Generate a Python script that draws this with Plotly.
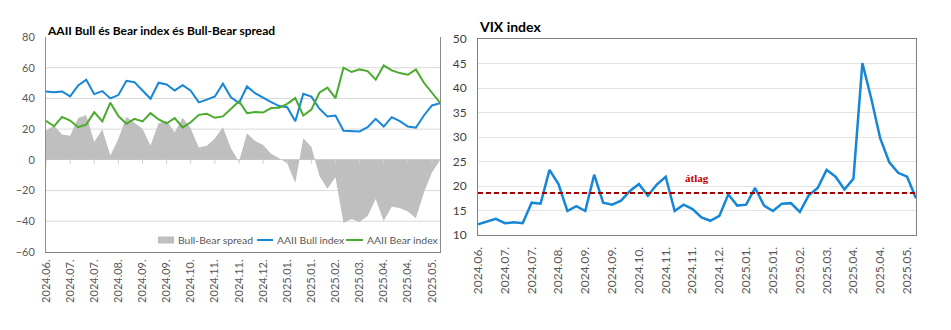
import plotly.graph_objects as go
import pandas as pd
import numpy as np

# ---------------- data ----------------
DATES = [d.strftime("%Y-%m-%d") for d in pd.date_range("2024-06-13", periods=50, freq="7D")]

TICK_LABELS = ["2024.06.", "2024.07.", "2024.07.", "2024.08.", "2024.09.", "2024.09.",
               "2024.10.", "2024.11.", "2024.11.", "2024.12.", "2025.01.", "2025.01.",
               "2025.02.", "2025.03.", "2025.04.", "2025.04.", "2025.05."]
TICK_DATES = DATES[::3]

BULL = [44.5, 44.1, 44.5, 41.3, 48.5, 52.2, 42.8, 44.8, 40.0, 42.2,
        51.5, 50.6, 45.2, 39.8, 50.2, 49.1, 45.2, 48.6, 45.0, 37.4,
        39.2, 41.3, 49.6, 40.8, 37.0, 47.8, 43.4, 40.4, 37.6, 35.0,
        34.3, 25.2, 43.0, 41.2, 33.3, 28.2, 28.9, 18.9, 18.7, 18.5,
        21.3, 26.7, 21.7, 27.8, 25.2, 21.7, 20.9, 28.9, 35.4, 36.9]

BEAR = [25.4, 21.9, 28.0, 25.6, 21.3, 23.0, 31.1, 25.0, 37.2, 28.5,
        23.5, 26.7, 25.0, 30.4, 26.3, 23.7, 27.2, 21.1, 24.5, 29.3,
        30.0, 27.4, 28.3, 33.2, 38.2, 30.4, 31.1, 30.8, 33.7, 33.9,
        36.5, 40.2, 28.9, 32.7, 43.7, 47.0, 40.2, 60.0, 57.2, 58.9,
        57.8, 52.2, 61.5, 58.3, 56.5, 55.4, 58.9, 50.2, 43.7, 37.2]

SPREAD = [19.1, 22.2, 16.5, 15.7, 27.2, 29.2, 11.7, 19.8, 2.8, 13.7,
          28.0, 23.9, 20.2, 9.4, 23.9, 25.4, 18.0, 27.5, 20.5, 8.1,
          9.2, 13.9, 21.3, 7.6, -1.2, 17.4, 12.3, 9.6, 3.9, 1.1,
          -2.2, -15.0, 14.1, 8.5, -10.4, -18.8, -11.3, -41.1, -38.5, -40.4,
          -36.5, -25.5, -39.8, -30.5, -31.3, -33.7, -38.0, -21.3, -8.3, -0.3]

VIX = [12.2, 12.7, 13.3, 12.4, 12.6, 12.4, 16.6, 16.4, 23.3, 20.4,
       14.9, 15.9, 14.9, 22.3, 16.6, 16.2, 17.0, 19.0, 20.4, 18.0,
       20.3, 21.9, 14.9, 16.2, 15.3, 13.6, 12.9, 13.9, 18.3, 16.0,
       16.2, 19.6, 16.0, 14.9, 16.4, 16.5, 14.7, 18.1, 19.6, 23.3,
       21.9, 19.3, 21.5, 45.1, 37.8, 29.7, 24.9, 22.7, 21.9, 17.5]
VIX_AVG = float(np.mean(VIX))

LEFT_RANGE = [-60, 80]
LEFT_GRID = [60, 40, 20, -20, -40]

LEGEND_NAMES = ["Bull-Bear spread", "AAII Bull index", "AAII Bear index"]

# ---------------- styling ----------------
W, H = 951, 330
FONT = "Lato"
BLUE = "#1686d6"
GREEN = "#4aab2c"
GRAY_AREA = "#bfbfbf"
TXT = "#595959"
GRID = "#d9d9d9"

def px_x(p):
    return p / W

def px_y(p):
    return 1 - p / H

L_DOM_X = [px_x(46), px_x(440)]
L_DOM_Y = [px_y(252), px_y(37)]
R_DOM_X = [px_x(478), px_x(916)]
R_DOM_Y = [px_y(235), px_y(39)]

L_UNITS_PER_PX = (LEFT_RANGE[1] - LEFT_RANGE[0]) / (252 - 37)

fig = go.Figure()

# horizontal gridlines of the left panel, drawn first so they sit beneath the data
grid_x, grid_y = [], []
for g in LEFT_GRID:
    grid_x += [DATES[0], DATES[-1], None]
    grid_y += [g, g, None]
fig.add_trace(go.Scatter(x=grid_x, y=grid_y, mode="lines", line=dict(color=GRID, width=1),
                         hoverinfo="skip", showlegend=False, connectgaps=False,
                         xaxis="x", yaxis="y"))

fig.add_trace(go.Scatter(x=DATES, y=SPREAD, name=LEGEND_NAMES[0], fill="tozeroy",
                         fillcolor=GRAY_AREA, mode="lines", line=dict(width=0, color=GRAY_AREA),
                         xaxis="x", yaxis="y", showlegend=False))
# small tick marks hanging below the zero line
fig.add_trace(go.Scatter(x=TICK_DATES, y=[0] * len(TICK_DATES), mode="markers",
                         marker=dict(size=1, opacity=0), showlegend=False, hoverinfo="skip",
                         error_y=dict(type="constant", value=0, valueminus=4 * L_UNITS_PER_PX,
                                      symmetric=False, width=0, color="#d0d0d0", thickness=1),
                         xaxis="x", yaxis="y"))
fig.add_trace(go.Scatter(x=DATES, y=BULL, name=LEGEND_NAMES[1], mode="lines",
                         line=dict(color=BLUE, width=2), xaxis="x", yaxis="y", showlegend=False))
fig.add_trace(go.Scatter(x=DATES, y=BEAR, name=LEGEND_NAMES[2], mode="lines",
                         line=dict(color=GREEN, width=2), xaxis="x", yaxis="y", showlegend=False))
fig.add_trace(go.Scatter(x=DATES, y=VIX, name="VIX", mode="lines", showlegend=False,
                         line=dict(color=BLUE, width=2.5), xaxis="x2", yaxis="y2"))

shapes = [dict(type="line", xref="x2 domain", yref="y2", x0=0, x1=1, y0=VIX_AVG, y1=VIX_AVG,
               line=dict(color="#a50000", width=2, dash="5px,3px"))]

# custom legend (symbols + text), positioned in pixels
LEG_Y = 240
leg_items = [
    ("rect", GRAY_AREA, 158, 174, 176),
    ("line", BLUE, 257, 273, 275),
    ("line", GREEN, 346, 363, 365),
]
annotations = []
for (kind, col, s0, s1, tx), name in zip(leg_items, LEGEND_NAMES):
    if kind == "rect":
        shapes.append(dict(type="rect", xref="paper", yref="paper", x0=px_x(s0), x1=px_x(s1),
                           y0=px_y(LEG_Y + 3.5), y1=px_y(LEG_Y - 3.5), fillcolor=col,
                           line=dict(width=0)))
    else:
        shapes.append(dict(type="line", xref="paper", yref="paper", x0=px_x(s0), x1=px_x(s1),
                           y0=px_y(LEG_Y), y1=px_y(LEG_Y), line=dict(color=col, width=2)))
    annotations.append(dict(text=name, xref="paper", yref="paper", x=px_x(tx), y=px_y(LEG_Y),
                            xanchor="left", yanchor="middle", showarrow=False,
                            font=dict(family=FONT, size=10.4, color=TXT)))

annotations += [
    dict(text="<b>AAII Bull és Bear index és Bull-Bear spread</b>", xref="paper", yref="paper",
         x=px_x(45), y=px_y(30), xanchor="left", yanchor="middle", showarrow=False,
         font=dict(family=FONT, size=12, color="#000000")),
    dict(text="<b>VIX index</b>", xref="paper", yref="paper",
         x=px_x(477), y=px_y(27), xanchor="left", yanchor="middle", showarrow=False,
         font=dict(family=FONT, size=14, color="#000000")),
    dict(text="<b>átlag</b>", xref="x2", yref="y2", x=24.5, y=21.6,
         xanchor="center", yanchor="middle", showarrow=False,
         font=dict(family="Liberation Serif", size=11, color="#c00000")),
]

fig.update_layout(
    width=W, height=H,
    margin=dict(l=0, r=0, t=0, b=0, autoexpand=False),
    paper_bgcolor="white", plot_bgcolor="white",
    font=dict(family=FONT, size=11, color=TXT),
    shapes=shapes,
    annotations=annotations,
    showlegend=False,
    xaxis=dict(domain=L_DOM_X, anchor="y", type="category", range=[0, 49], automargin=False,
               categoryorder="array", categoryarray=DATES,
               tickvals=TICK_DATES, ticktext=TICK_LABELS, tickangle=-90,
               showline=True, linecolor="#808080", linewidth=1, ticks="",
               showgrid=False, zeroline=False, ticklabelstandoff=2,
               tickfont=dict(size=11, color=TXT)),
    yaxis=dict(domain=L_DOM_Y, anchor="x", range=LEFT_RANGE, dtick=20, showgrid=False,
               zeroline=True, zerolinecolor="#d0d0d0", zerolinewidth=1,
               automargin=False, showline=True, mirror=True,
               linecolor="#8c8c8c", linewidth=1,
               ticks="", ticklabelstandoff=8, tickfont=dict(size=11, color=TXT)),
    xaxis2=dict(domain=R_DOM_X, anchor="y2", type="category", range=[0, 49], automargin=False,
                categoryorder="array", categoryarray=DATES,
                tickvals=TICK_DATES, ticktext=TICK_LABELS, tickangle=-90,
                showline=True, mirror=True, linecolor="#7f7f7f", linewidth=1, ticks="",
                showgrid=False, zeroline=False, ticklabelstandoff=6,
                tickfont=dict(size=12, color=TXT)),
    yaxis2=dict(domain=R_DOM_Y, anchor="x2", range=[10, 50], dtick=5, showgrid=True,
                automargin=False, gridcolor="#e3e3e3", zeroline=False, showline=True, mirror=True,
                linecolor="#7f7f7f", linewidth=1, ticks="", ticklabelstandoff=8,
                tickfont=dict(size=12, color="#404040")),
)

fig.write_html("out.html")
